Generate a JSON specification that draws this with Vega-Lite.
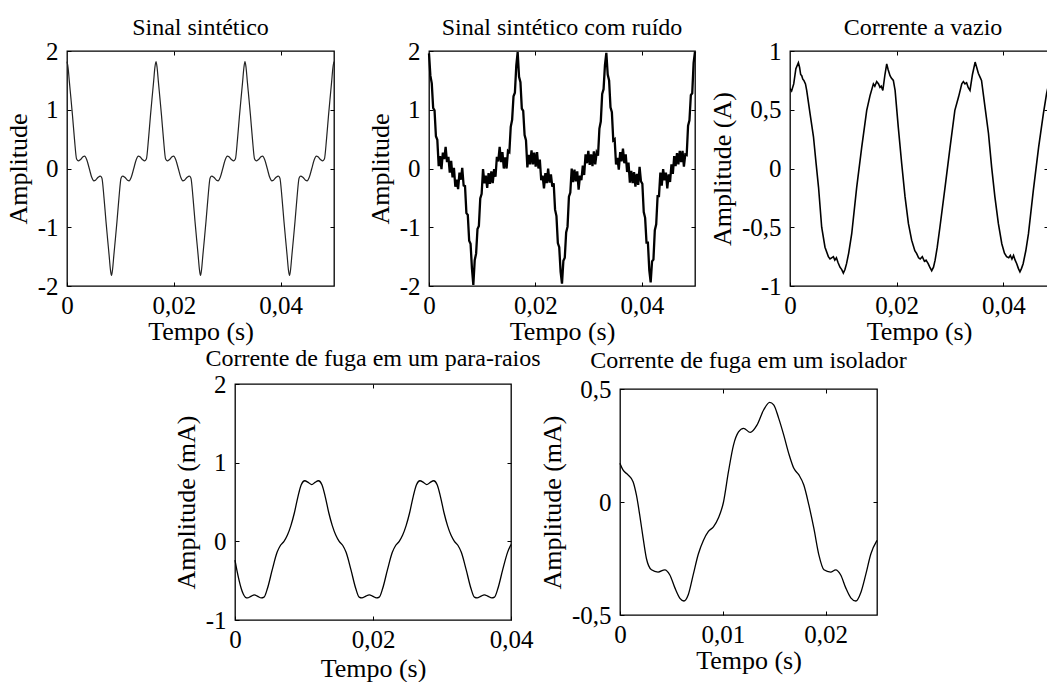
{
  "$schema": "https://vega.github.io/schema/vega-lite/v6.json",
  "background": "white",
  "padding": {"left": 4, "top": 15, "right": 0, "bottom": 0},
  "datasets": {
    "s1": [
      {"t":0,"v":1.82},{"t":0.0002,"v":1.72},{"t":0.00045,"v":1.47},{"t":0.00075,"v":1.18},{"t":0.00103,"v":0.9},{"t":0.0014,"v":0.5},{"t":0.0018,"v":0.16},{"t":0.0021,"v":0.13},{"t":0.0025,"v":0.15},{"t":0.003,"v":0.2},{"t":0.0033,"v":0.21},{"t":0.0037,"v":0.15},{"t":0.00417,"v":0},{"t":0.00463,"v":-0.15},{"t":0.00503,"v":-0.21},{"t":0.00533,"v":-0.2},{"t":0.00583,"v":-0.15},{"t":0.00623,"v":-0.13},{"t":0.00653,"v":-0.16},{"t":0.00693,"v":-0.5},{"t":0.0073,"v":-0.9},{"t":0.00758,"v":-1.18},{"t":0.00788,"v":-1.47},{"t":0.00813,"v":-1.72},
      {"t":0.00833,"v":-1.82},{"t":0.00853,"v":-1.72},{"t":0.00878,"v":-1.47},{"t":0.00908,"v":-1.18},{"t":0.00936,"v":-0.9},{"t":0.00973,"v":-0.5},{"t":0.01013,"v":-0.16},{"t":0.01043,"v":-0.13},{"t":0.01083,"v":-0.15},{"t":0.01133,"v":-0.2},{"t":0.01163,"v":-0.21},{"t":0.01203,"v":-0.15},{"t":0.0125,"v":0},{"t":0.01296,"v":0.15},{"t":0.01336,"v":0.21},{"t":0.01366,"v":0.2},{"t":0.01416,"v":0.15},{"t":0.01456,"v":0.13},{"t":0.01486,"v":0.16},{"t":0.01526,"v":0.5},{"t":0.01563,"v":0.9},{"t":0.01591,"v":1.18},{"t":0.01621,"v":1.47},{"t":0.01646,"v":1.72},
      {"t":0.01667,"v":1.82},{"t":0.01687,"v":1.72},{"t":0.01712,"v":1.47},{"t":0.01742,"v":1.18},{"t":0.0177,"v":0.9},{"t":0.01807,"v":0.5},{"t":0.01847,"v":0.16},{"t":0.01877,"v":0.13},{"t":0.01917,"v":0.15},{"t":0.01967,"v":0.2},{"t":0.01997,"v":0.21},{"t":0.02037,"v":0.15},{"t":0.02084,"v":0},{"t":0.0213,"v":-0.15},{"t":0.0217,"v":-0.21},{"t":0.022,"v":-0.2},{"t":0.0225,"v":-0.15},{"t":0.0229,"v":-0.13},{"t":0.0232,"v":-0.16},{"t":0.0236,"v":-0.5},{"t":0.02397,"v":-0.9},{"t":0.02425,"v":-1.18},{"t":0.02455,"v":-1.47},{"t":0.0248,"v":-1.72},
      {"t":0.025,"v":-1.82},{"t":0.0252,"v":-1.72},{"t":0.02545,"v":-1.47},{"t":0.02575,"v":-1.18},{"t":0.02603,"v":-0.9},{"t":0.0264,"v":-0.5},{"t":0.0268,"v":-0.16},{"t":0.0271,"v":-0.13},{"t":0.0275,"v":-0.15},{"t":0.028,"v":-0.2},{"t":0.0283,"v":-0.21},{"t":0.0287,"v":-0.15},{"t":0.02917,"v":0},{"t":0.02963,"v":0.15},{"t":0.03003,"v":0.21},{"t":0.03033,"v":0.2},{"t":0.03083,"v":0.15},{"t":0.03123,"v":0.13},{"t":0.03153,"v":0.16},{"t":0.03193,"v":0.5},{"t":0.0323,"v":0.9},{"t":0.03258,"v":1.18},{"t":0.03288,"v":1.47},{"t":0.03313,"v":1.72},
      {"t":0.03333,"v":1.82},{"t":0.03353,"v":1.72},{"t":0.03378,"v":1.47},{"t":0.03408,"v":1.18},{"t":0.03436,"v":0.9},{"t":0.03473,"v":0.5},{"t":0.03513,"v":0.16},{"t":0.03543,"v":0.13},{"t":0.03583,"v":0.15},{"t":0.03633,"v":0.2},{"t":0.03663,"v":0.21},{"t":0.03703,"v":0.15},{"t":0.0375,"v":0},{"t":0.03796,"v":-0.15},{"t":0.03836,"v":-0.21},{"t":0.03866,"v":-0.2},{"t":0.03916,"v":-0.15},{"t":0.03956,"v":-0.13},{"t":0.03986,"v":-0.16},{"t":0.04026,"v":-0.5},{"t":0.04063,"v":-0.9},{"t":0.04091,"v":-1.18},{"t":0.04121,"v":-1.47},{"t":0.04146,"v":-1.72},
      {"t":0.04167,"v":-1.82},{"t":0.04187,"v":-1.72},{"t":0.04212,"v":-1.47},{"t":0.04242,"v":-1.18},{"t":0.0427,"v":-0.9},{"t":0.04307,"v":-0.5},{"t":0.04347,"v":-0.16},{"t":0.04377,"v":-0.13},{"t":0.04417,"v":-0.15},{"t":0.04467,"v":-0.2},{"t":0.04497,"v":-0.21},{"t":0.04537,"v":-0.15},{"t":0.04584,"v":0},{"t":0.0463,"v":0.15},{"t":0.0467,"v":0.21},{"t":0.047,"v":0.2},{"t":0.0475,"v":0.15},{"t":0.0479,"v":0.13},{"t":0.0482,"v":0.16},{"t":0.0486,"v":0.5},{"t":0.04897,"v":0.9},{"t":0.04925,"v":1.18},{"t":0.04955,"v":1.47},{"t":0.0498,"v":1.72},{"t":0.05,"v":1.82}
    ],
    "s2": [
      {"t":0,"v":1.96},{"t":0.0002604,"v":1.58},{"t":0.0005208,"v":1.45},{"t":0.0007813,"v":1.03},{"t":0.0010417,"v":0.99},{"t":0.0013021,"v":0.55},{"t":0.0015625,"v":0.49},{"t":0.0018229,"v":0.04},{"t":0.0020833,"v":0.21},{"t":0.0023438,"v":-0.01},{"t":0.0026042,"v":0.27},{"t":0.0028646,"v":0.16},{"t":0.003125,"v":0.37},{"t":0.0033854,"v":0.11},{"t":0.0036458,"v":0.2},{"t":0.0039063,"v":-0.07},
      {"t":0.0041667,"v":0.13},{"t":0.0044271,"v":-0.15},{"t":0.0046875,"v":0.01},{"t":0.0049479,"v":-0.31},{"t":0.0052083,"v":-0.19},{"t":0.0054688,"v":-0.35},{"t":0.0057292,"v":-0.07},{"t":0.0059896,"v":-0.19},{"t":0.00625,"v":0.01},{"t":0.0065104,"v":-0.29},{"t":0.0067708,"v":-0.3},{"t":0.0070313,"v":-0.76},{"t":0.0072917,"v":-0.79},{"t":0.0075521,"v":-1.23},{"t":0.0078125,"v":-1.28},{"t":0.0080729,"v":-1.7},
      {"t":0.0083333,"v":-1.98},{"t":0.0085938,"v":-1.56},{"t":0.0088542,"v":-1.45},{"t":0.0091146,"v":-1.03},{"t":0.009375,"v":-0.98},{"t":0.0096354,"v":-0.51},{"t":0.0098958,"v":-0.43},{"t":0.0101563,"v":-0.01},{"t":0.0104167,"v":-0.25},{"t":0.0106771,"v":-0.12},{"t":0.0109375,"v":-0.33},{"t":0.0111979,"v":-0.08},{"t":0.0114583,"v":-0.26},{"t":0.0117188,"v":-0.05},{"t":0.0119792,"v":-0.25},{"t":0.0122396,"v":-0.01},
      {"t":0.0125,"v":-0.14},{"t":0.0127604,"v":0.2},{"t":0.0130208,"v":0.12},{"t":0.0132813,"v":0.37},{"t":0.0135417,"v":0.11},{"t":0.0138021,"v":0.28},{"t":0.0140625,"v":0},{"t":0.0143229,"v":0.19},{"t":0.0145833,"v":0},{"t":0.0148438,"v":0.3},{"t":0.0151042,"v":0.28},{"t":0.0153646,"v":0.71},{"t":0.015625,"v":0.83},{"t":0.0158854,"v":1.23},{"t":0.0161458,"v":1.29},{"t":0.0164063,"v":1.75},
      {"t":0.0166667,"v":1.98},{"t":0.0169271,"v":1.56},{"t":0.0171875,"v":1.47},{"t":0.0174479,"v":1.02},{"t":0.0177083,"v":0.98},{"t":0.0179688,"v":0.57},{"t":0.0182292,"v":0.48},{"t":0.0184896,"v":0.02},{"t":0.01875,"v":0.23},{"t":0.0190104,"v":0.07},{"t":0.0192708,"v":0.31},{"t":0.0195313,"v":0.07},{"t":0.0197917,"v":0.27},{"t":0.0200521,"v":0.03},{"t":0.0203125,"v":0.28},{"t":0.0205729,"v":0},
      {"t":0.0208333,"v":0.15},{"t":0.0210938,"v":-0.2},{"t":0.0213542,"v":-0.12},{"t":0.0216146,"v":-0.34},{"t":0.021875,"v":-0.08},{"t":0.0221354,"v":-0.25},{"t":0.0223958,"v":0},{"t":0.0226563,"v":-0.24},{"t":0.0229167,"v":-0.1},{"t":0.0231771,"v":-0.31},{"t":0.0234375,"v":-0.25},{"t":0.0236979,"v":-0.7},{"t":0.0239583,"v":-0.81},{"t":0.0242188,"v":-1.27},{"t":0.0244792,"v":-1.34},{"t":0.0247396,"v":-1.76},
      {"t":0.025,"v":-1.96},{"t":0.0252604,"v":-1.57},{"t":0.0255208,"v":-1.52},{"t":0.0257813,"v":-1.09},{"t":0.0260417,"v":-0.99},{"t":0.0263021,"v":-0.48},{"t":0.0265625,"v":-0.41},{"t":0.0268229,"v":0},{"t":0.0270833,"v":-0.23},{"t":0.0273438,"v":-0.02},{"t":0.0276042,"v":-0.22},{"t":0.0278646,"v":-0.05},{"t":0.028125,"v":-0.36},{"t":0.0283854,"v":-0.12},{"t":0.0286458,"v":-0.2},{"t":0.0289063,"v":0.05},
      {"t":0.0291667,"v":-0.11},{"t":0.0294271,"v":0.24},{"t":0.0296875,"v":0.09},{"t":0.0299479,"v":0.3},{"t":0.0302083,"v":0.06},{"t":0.0304688,"v":0.24},{"t":0.0307292,"v":0.04},{"t":0.0309896,"v":0.29},{"t":0.03125,"v":0.07},{"t":0.0315104,"v":0.27},{"t":0.0317708,"v":0.22},{"t":0.0320313,"v":0.68},{"t":0.0322917,"v":0.8},{"t":0.0325521,"v":1.27},{"t":0.0328125,"v":1.35},{"t":0.0330729,"v":1.76},
      {"t":0.0333333,"v":1.97},{"t":0.0335938,"v":1.6},{"t":0.0338542,"v":1.5},{"t":0.0341146,"v":1.04},{"t":0.034375,"v":0.96},{"t":0.0346354,"v":0.48},{"t":0.0348958,"v":0.5},{"t":0.0351563,"v":0.07},{"t":0.0354167,"v":0.18},{"t":0.0356771,"v":-0.02},{"t":0.0359375,"v":0.28},{"t":0.0361979,"v":0.12},{"t":0.0364583,"v":0.34},{"t":0.0367188,"v":0.09},{"t":0.0369792,"v":0.24},{"t":0.0372396,"v":-0.06},
      {"t":0.0375,"v":0.1},{"t":0.0377604,"v":-0.24},{"t":0.0380208,"v":-0.04},{"t":0.0382813,"v":-0.25},{"t":0.0385417,"v":-0.06},{"t":0.0388021,"v":-0.31},{"t":0.0390625,"v":-0.09},{"t":0.0393229,"v":-0.28},{"t":0.0395833,"v":0.03},{"t":0.0398438,"v":-0.22},{"t":0.0401042,"v":-0.26},{"t":0.0403646,"v":-0.74},{"t":0.040625,"v":-0.84},{"t":0.0408854,"v":-1.26},{"t":0.0411458,"v":-1.26},{"t":0.0414063,"v":-1.73},
      {"t":0.0416667,"v":-1.94},{"t":0.0419271,"v":-1.58},{"t":0.0421875,"v":-1.55},{"t":0.0424479,"v":-1.05},{"t":0.0427083,"v":-0.95},{"t":0.0429688,"v":-0.47},{"t":0.0432292,"v":-0.47},{"t":0.0434896,"v":-0.07},{"t":0.04375,"v":-0.29},{"t":0.0440104,"v":-0.01},{"t":0.0442708,"v":-0.2},{"t":0.0445313,"v":-0.07},{"t":0.0447917,"v":-0.34},{"t":0.0450521,"v":-0.1},{"t":0.0453125,"v":-0.23},{"t":0.0455729,"v":0.07},
      {"t":0.0458333,"v":-0.09},{"t":0.0460938,"v":0.21},{"t":0.0463542,"v":0.04},{"t":0.0466146,"v":0.26},{"t":0.046875,"v":0.07},{"t":0.0471354,"v":0.3},{"t":0.0473958,"v":0.11},{"t":0.0476563,"v":0.3},{"t":0.0479167,"v":0.03},{"t":0.0481771,"v":0.24},{"t":0.0484375,"v":0.23},{"t":0.0486979,"v":0.73},{"t":0.0489583,"v":0.82},{"t":0.0492188,"v":1.25},{"t":0.0494792,"v":1.28},{"t":0.0497396,"v":1.8},{"t":0.05,"v":1.99}
    ],
    "s3": [
      {"t":0,"v":0.68},{"t":0.0003,"v":0.66},{"t":0.0007,"v":0.72},{"t":0.0011,"v":0.85},{"t":0.00157,"v":0.9},{"t":0.0018,"v":0.86},{"t":0.002,"v":0.8},{"t":0.0022,"v":0.79},{"t":0.0024,"v":0.76},{"t":0.0026,"v":0.75},{"t":0.0029,"v":0.72},{"t":0.00313,"v":0.665},{"t":0.00375,"v":0.47},{"t":0.0044,"v":0.27},{"t":0.0049,"v":0.04},{"t":0.00535,"v":-0.16},{"t":0.00594,"v":-0.5},{"t":0.00656,"v":-0.67},{"t":0.00719,"v":-0.75},{"t":0.0075,"v":-0.77},{"t":0.0078,"v":-0.76},{"t":0.00813,"v":-0.75},{"t":0.0084,"v":-0.78},{"t":0.0087,"v":-0.76},{"t":0.009,"v":-0.8},{"t":0.00937,"v":-0.84},{"t":0.0097,"v":-0.86},{"t":0.01,"v":-0.89},{"t":0.0103,"v":-0.86},{"t":0.0106,"v":-0.81},{"t":0.011,"v":-0.72},{"t":0.01157,"v":-0.555},{"t":0.0125,"v":-0.16},{"t":0.01344,"v":0.18},{"t":0.01438,"v":0.495},{"t":0.015,"v":0.62},{"t":0.01563,"v":0.72},{"t":0.0159,"v":0.7},{"t":0.01625,"v":0.74},{"t":0.0166,"v":0.72},{"t":0.01687,"v":0.69},{"t":0.0171,"v":0.7},{"t":0.0174,"v":0.665},{"t":0.0178,"v":0.8},{"t":0.01813,"v":0.89},{"t":0.0184,"v":0.84},{"t":0.01875,"v":0.79},{"t":0.019,"v":0.77},{"t":0.01937,"v":0.75},{"t":0.0197,"v":0.665},{"t":0.0203,"v":0.35},{"t":0.02094,"v":0.04},{"t":0.02156,"v":-0.24},{"t":0.0222,"v":-0.47},{"t":0.0228,"v":-0.61},{"t":0.0234,"v":-0.7},{"t":0.02375,"v":-0.725},{"t":0.0241,"v":-0.76},{"t":0.0244,"v":-0.77},{"t":0.0248,"v":-0.75},{"t":0.0252,"v":-0.79},{"t":0.0255,"v":-0.78},{"t":0.0259,"v":-0.81},{"t":0.0262,"v":-0.84},{"t":0.02656,"v":-0.87},{"t":0.0269,"v":-0.84},{"t":0.0272,"v":-0.78},{"t":0.0276,"v":-0.67},{"t":0.0281,"v":-0.5},{"t":0.02906,"v":-0.16},{"t":0.03,"v":0.18},{"t":0.0309,"v":0.495},{"t":0.0316,"v":0.61},{"t":0.0322,"v":0.72},{"t":0.0325,"v":0.74},{"t":0.0328,"v":0.72},{"t":0.0331,"v":0.73},{"t":0.0334,"v":0.69},{"t":0.03374,"v":0.665},{"t":0.0342,"v":0.8},{"t":0.0347,"v":0.906},{"t":0.035,"v":0.86},{"t":0.0353,"v":0.81},{"t":0.0356,"v":0.78},{"t":0.0359,"v":0.75},{"t":0.03656,"v":0.52},{"t":0.0372,"v":0.3},{"t":0.0378,"v":0.01},{"t":0.0384,"v":-0.24},{"t":0.03906,"v":-0.47},{"t":0.0397,"v":-0.64},{"t":0.0402,"v":-0.72},{"t":0.0406,"v":-0.75},{"t":0.041,"v":-0.76},{"t":0.0413,"v":-0.74},{"t":0.0416,"v":-0.77},{"t":0.0419,"v":-0.74},{"t":0.0422,"v":-0.78},{"t":0.0425,"v":-0.81},{"t":0.0428,"v":-0.85},{"t":0.0431,"v":-0.88},{"t":0.0434,"v":-0.85},{"t":0.0437,"v":-0.81},{"t":0.0442,"v":-0.7},{"t":0.0447,"v":-0.555},{"t":0.0456,"v":-0.19},{"t":0.0466,"v":0.18},{"t":0.0475,"v":0.47},{"t":0.0481,"v":0.64},{"t":0.0484,"v":0.7}
    ],
    "s4": [
      {"t":0,"v":-0.24},{"t":0.0003,"v":-0.38},{"t":0.0006,"v":-0.5},{"t":0.0009,"v":-0.6},{"t":0.0012,"v":-0.67},{"t":0.0015,"v":-0.71},{"t":0.0018,"v":-0.72},{"t":0.0023,"v":-0.7},{"t":0.0028,"v":-0.68},{"t":0.0033,"v":-0.7},{"t":0.0038,"v":-0.72},{"t":0.0042,"v":-0.71},{"t":0.0047,"v":-0.6},{"t":0.0054,"v":-0.36},{"t":0.0061,"v":-0.14},{"t":0.0066,"v":-0.05},{"t":0.0071,"v":0},{"t":0.0076,"v":0.08},{"t":0.0081,"v":0.2},{"t":0.0086,"v":0.36},{"t":0.0091,"v":0.56},{"t":0.0096,"v":0.72},{"t":0.0101,"v":0.77},{"t":0.0106,"v":0.75},{"t":0.01113,"v":0.72},{"t":0.0116,"v":0.75},{"t":0.0121,"v":0.77},{"t":0.0126,"v":0.72},{"t":0.0131,"v":0.56},{"t":0.0136,"v":0.36},{"t":0.0141,"v":0.2},{"t":0.0146,"v":0.08},{"t":0.0151,"v":0},{"t":0.0156,"v":-0.05},{"t":0.0161,"v":-0.14},{"t":0.0168,"v":-0.36},{"t":0.0175,"v":-0.6},{"t":0.018,"v":-0.71},{"t":0.0184,"v":-0.72},{"t":0.0189,"v":-0.7},{"t":0.01947,"v":-0.68},{"t":0.02,"v":-0.7},{"t":0.0205,"v":-0.72},{"t":0.0209,"v":-0.71},{"t":0.0214,"v":-0.6},{"t":0.0221,"v":-0.36},{"t":0.0228,"v":-0.14},{"t":0.0233,"v":-0.05},{"t":0.0238,"v":0},{"t":0.0243,"v":0.08},{"t":0.0248,"v":0.2},{"t":0.0253,"v":0.36},{"t":0.0258,"v":0.56},{"t":0.0263,"v":0.72},{"t":0.0268,"v":0.77},{"t":0.0273,"v":0.75},{"t":0.0278,"v":0.72},{"t":0.0283,"v":0.75},{"t":0.0288,"v":0.77},{"t":0.0293,"v":0.72},{"t":0.0298,"v":0.56},{"t":0.0303,"v":0.36},{"t":0.0308,"v":0.2},{"t":0.0313,"v":0.08},{"t":0.0318,"v":0},{"t":0.0323,"v":-0.05},{"t":0.0328,"v":-0.14},{"t":0.0335,"v":-0.36},{"t":0.0342,"v":-0.6},{"t":0.0347,"v":-0.71},{"t":0.0351,"v":-0.72},{"t":0.0356,"v":-0.7},{"t":0.03613,"v":-0.68},{"t":0.0367,"v":-0.7},{"t":0.0372,"v":-0.72},{"t":0.0376,"v":-0.71},{"t":0.0381,"v":-0.6},{"t":0.0388,"v":-0.36},{"t":0.0395,"v":-0.14},{"t":0.04,"v":-0.04}
    ],
    "s5": [
      {"t":0,"v":0.171},{"t":0.00029,"v":0.142},{"t":0.00078,"v":0.12},{"t":0.00127,"v":0.09},{"t":0.0016,"v":0.03},{"t":0.00192,"v":-0.058},{"t":0.00225,"v":-0.16},{"t":0.00257,"v":-0.25},{"t":0.00306,"v":-0.3},{"t":0.0037,"v":-0.31},{"t":0.00436,"v":-0.3},{"t":0.00485,"v":-0.323},{"t":0.00534,"v":-0.38},{"t":0.00583,"v":-0.426},{"t":0.00622,"v":-0.438},{"t":0.00664,"v":-0.41},{"t":0.00713,"v":-0.32},{"t":0.00762,"v":-0.23},{"t":0.00811,"v":-0.17},{"t":0.0086,"v":-0.13},{"t":0.00909,"v":-0.11},{"t":0.00958,"v":-0.07},{"t":0.01007,"v":0},{"t":0.01055,"v":0.134},{"t":0.01104,"v":0.252},{"t":0.01153,"v":0.31},{"t":0.01202,"v":0.326},{"t":0.01267,"v":0.308},{"t":0.01332,"v":0.34},{"t":0.01397,"v":0.407},{"t":0.01456,"v":0.441},{"t":0.01495,"v":0.43},{"t":0.01544,"v":0.37},{"t":0.01593,"v":0.296},{"t":0.01642,"v":0.214},{"t":0.01691,"v":0.149},{"t":0.0174,"v":0.12},{"t":0.01788,"v":0.075},{"t":0.01837,"v":-0.013},{"t":0.01886,"v":-0.117},{"t":0.01935,"v":-0.235},{"t":0.01984,"v":-0.3},{"t":0.02049,"v":-0.31},{"t":0.02098,"v":-0.3},{"t":0.02147,"v":-0.323},{"t":0.02196,"v":-0.38},{"t":0.02245,"v":-0.424},{"t":0.02294,"v":-0.438},{"t":0.02343,"v":-0.4},{"t":0.02391,"v":-0.32},{"t":0.0244,"v":-0.23},{"t":0.025,"v":-0.17}
    ]
  },
  "vconcat": [
    {
      "hconcat": [
        {
          "title": {"text": "Sinal sintético", "offset": -1},
          "width": 267, "height": 235,
          "data": {"name": "s1"},
          "layer": [
            {"mark": {"type": "line", "color": "#222222", "strokeWidth": 1.2, "interpolate": "monotone"},
             "encoding": {
               "x": {"field": "t", "type": "quantitative", "scale": {"domain": [0, 0.05], "nice": false, "zero": false}, "axis": {"title": "Tempo (s)", "values": [0, 0.02, 0.04], "labelExpr": "replace(toString(datum.value), '.', ',')"}},
               "y": {"field": "v", "type": "quantitative", "scale": {"domain": [-2, 2], "nice": false}, "axis": {"title": "Amplitude", "values": [-2, -1, 0, 1, 2], "labelExpr": "replace(toString(datum.value), '.', ',')"}}
             }},
            {"mark": {"type": "line", "opacity": 0},
             "encoding": {
               "x": {"field": "t", "type": "quantitative", "axis": {"orient": "top", "labels": false, "title": null, "values": [0.02, 0.04]}},
               "y": {"field": "v", "type": "quantitative", "axis": {"orient": "right", "labels": false, "title": null, "values": [-1, 0, 1]}}
             }}
          ],
          "resolve": {"axis": {"x": "independent", "y": "independent"}}
        },
        {
          "title": {"text": "Sinal sintético com ruído", "offset": -1},
          "width": 266, "height": 235,
          "data": {"name": "s2"},
          "layer": [
            {"mark": {"type": "line", "color": "black", "strokeWidth": 2.3},
             "encoding": {
               "x": {"field": "t", "type": "quantitative", "scale": {"domain": [0, 0.05], "nice": false, "zero": false}, "axis": {"title": "Tempo (s)", "values": [0, 0.02, 0.04], "labelExpr": "replace(toString(datum.value), '.', ',')"}},
               "y": {"field": "v", "type": "quantitative", "scale": {"domain": [-2, 2], "nice": false}, "axis": {"title": "Amplitude", "values": [-2, -1, 0, 1, 2], "labelExpr": "replace(toString(datum.value), '.', ',')"}}
             }},
            {"mark": {"type": "line", "opacity": 0},
             "encoding": {
               "x": {"field": "t", "type": "quantitative", "axis": {"orient": "top", "labels": false, "title": null, "values": [0.02, 0.04]}},
               "y": {"field": "v", "type": "quantitative", "axis": {"orient": "right", "labels": false, "title": null, "values": [-1, 0, 1]}}
             }}
          ],
          "resolve": {"axis": {"x": "independent", "y": "independent"}}
        },
        {
          "title": {"text": "Corrente a vazio", "offset": -1, "dx": 4},
          "width": 258, "height": 235,
          "data": {"name": "s3"},
          "layer": [
            {"mark": {"type": "line", "color": "black", "strokeWidth": 1.6, "clip": true},
             "encoding": {
               "x": {"field": "t", "type": "quantitative", "scale": {"domain": [0, 0.04836], "nice": false, "zero": false}, "axis": {"title": "Tempo (s)", "values": [0, 0.02, 0.04], "labelExpr": "replace(toString(datum.value), '.', ',')"}},
               "y": {"field": "v", "type": "quantitative", "scale": {"domain": [-1, 1], "nice": false}, "axis": {"title": "Amplitude (A)", "values": [-1, -0.5, 0, 0.5, 1], "labelExpr": "replace(toString(datum.value), '.', ',')"}}
             }},
            {"mark": {"type": "line", "opacity": 0},
             "encoding": {
               "x": {"field": "t", "type": "quantitative", "axis": {"orient": "top", "labels": false, "title": null, "values": [0.02, 0.04]}},
               "y": {"field": "v", "type": "quantitative", "axis": {"orient": "right", "labels": false, "title": null, "values": [-0.5, 0, 0.5]}}
             }}
          ],
          "resolve": {"axis": {"x": "independent", "y": "independent"}}
        }
      ],
      "spacing": 95,
      "bounds": "flush"
    },
    {
      "hconcat": [
        {
          "width": 59, "height": 236,
          "data": {"values": []},
          "mark": {"type": "point", "opacity": 0},
          "view": {"stroke": null}
        },
        {
          "title": {"text": "Corrente de fuga em um para-raios", "offset": 1},
          "width": 276, "height": 236,
          "data": {"name": "s4"},
          "layer": [
            {"mark": {"type": "line", "color": "black", "strokeWidth": 1.3, "interpolate": "monotone"},
             "encoding": {
               "x": {"field": "t", "type": "quantitative", "scale": {"domain": [0, 0.04], "nice": false, "zero": false}, "axis": {"title": "Tempo (s)", "titlePadding": 3, "values": [0, 0.02, 0.04], "labelExpr": "replace(toString(datum.value), '.', ',')"}},
               "y": {"field": "v", "type": "quantitative", "scale": {"domain": [-1, 2], "nice": false}, "axis": {"title": "Amplitude (mA)", "values": [-1, 0, 1, 2], "labelExpr": "replace(toString(datum.value), '.', ',')"}}
             }},
            {"mark": {"type": "line", "opacity": 0},
             "encoding": {
               "x": {"field": "t", "type": "quantitative", "axis": {"orient": "top", "labels": false, "title": null, "values": [0.02]}},
               "y": {"field": "v", "type": "quantitative", "axis": {"orient": "right", "labels": false, "title": null, "values": [0, 1]}}
             }}
          ],
          "resolve": {"axis": {"x": "independent", "y": "independent"}}
        },
        {
          "title": {"text": "Corrente de fuga em um isolador", "offset": 4},
          "width": 257, "height": 226,
          "data": {"name": "s5"},
          "layer": [
            {"mark": {"type": "line", "color": "black", "strokeWidth": 1.3, "interpolate": "monotone"},
             "encoding": {
               "x": {"field": "t", "type": "quantitative", "scale": {"domain": [0, 0.025], "nice": false, "zero": false}, "axis": {"title": "Tempo (s)", "values": [0, 0.01, 0.02], "labelExpr": "replace(toString(datum.value), '.', ',')"}},
               "y": {"field": "v", "type": "quantitative", "scale": {"domain": [-0.5, 0.5], "nice": false}, "axis": {"title": "Amplitude (mA)", "values": [-0.5, 0, 0.5], "labelExpr": "replace(toString(datum.value), '.', ',')"}}
             }},
            {"mark": {"type": "line", "opacity": 0},
             "encoding": {
               "x": {"field": "t", "type": "quantitative", "axis": {"orient": "top", "labels": false, "title": null, "values": [0.01, 0.02]}},
               "y": {"field": "v", "type": "quantitative", "axis": {"orient": "right", "labels": false, "title": null, "values": [0]}}
             }}
          ],
          "resolve": {"axis": {"x": "independent", "y": "independent"}}
        }
      ],
      "spacing": 109,
      "bounds": "flush",
      "center": true
    }
  ],
  "spacing": 333,
  "bounds": "flush",
  "config": {
    "font": "Liberation Serif",
    "view": {"stroke": "black", "strokeWidth": 1.3},
    "axis": {"grid": false, "domain": false, "ticks": true, "tickColor": "black", "tickSize": -4, "tickWidth": 1,
             "labelFont": "Liberation Serif", "labelFontSize": 25, "labelColor": "black", "labelFlush": false, "labelOverlap": false, "labelBound": false,
             "titleFont": "Liberation Serif", "titleFontSize": 26, "titleFontWeight": "normal", "titleColor": "black"},
    "axisX": {"labelPadding": 11, "titlePadding": 0},
    "axisY": {"labelPadding": 13, "titlePadding": 6},
    "title": {"font": "Liberation Serif", "fontSize": 24, "fontWeight": "normal", "color": "black", "anchor": "middle"}
  }
}
